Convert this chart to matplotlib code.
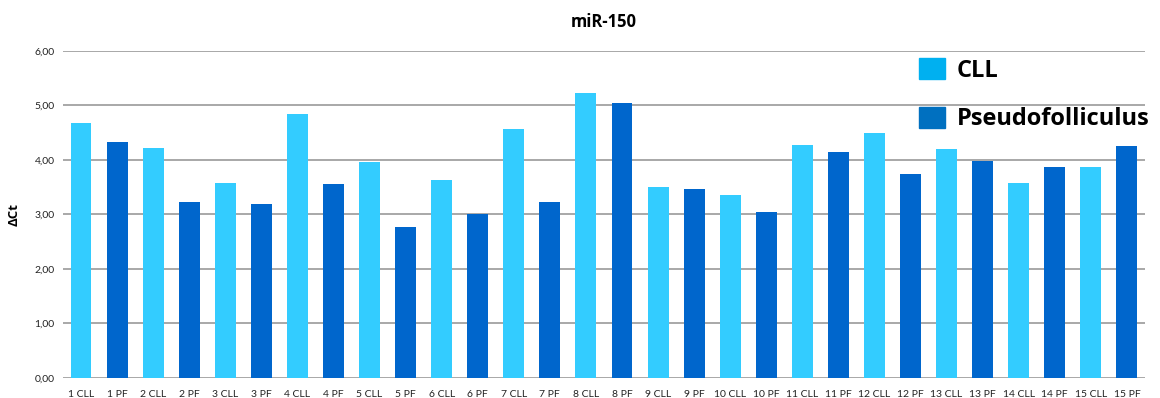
import numpy as np
import matplotlib.pyplot as plt
from matplotlib.patches import Patch
from matplotlib.ticker import FuncFormatter

plt.rcParams['font.family'] = ['Lato', 'DejaVu Sans']
bold_font = ['Open Sans', 'DejaVu Sans']

# delta Ct per sample, CLL and pseudofolliculus (PF) pairs
samples = [str(i) for i in range(1, 16)]
cll_vals = [4.68, 4.22, 3.58, 4.84, 3.96, 3.63, 4.57, 5.23, 3.50, 3.36,
            4.28, 4.50, 4.20, 3.58, 3.87]
pf_vals = [4.33, 3.23, 3.19, 3.56, 2.77, 3.01, 3.23, 5.05, 3.47, 3.05,
           4.15, 3.74, 3.98, 3.87, 4.26]

labels = []
values = []
colors = []
for s, c, p in zip(samples, cll_vals, pf_vals):
    labels += [s + ' CLL', s + ' PF']
    values += [c, p]
    colors += ['#33CCFF', '#0066CC']

fig = plt.figure(figsize=(11.6, 3.98), dpi=100)
ax = fig.add_axes([0.0543, 0.0503, 0.9327, 0.8216])

x = np.arange(len(values))
ax.bar(x, values, width=0.58, color=colors, zorder=3)

ax.set_xlim(-0.5, len(values) - 0.5)
ax.set_ylim(0, 6)
ax.set_yticks(np.arange(0, 7, 1))
ax.yaxis.set_major_formatter(FuncFormatter(lambda v, p: f'{v:.2f}'.replace('.', ',')))
ax.grid(axis='y', color='#999999', linewidth=1.2, zorder=0)
for sp in ax.spines.values():
    sp.set_visible(False)
ax.tick_params(axis='both', length=0, labelsize=7.5, colors='#222222')
ax.tick_params(axis='y', pad=6)
ax.tick_params(axis='x', pad=9)
ax.set_xticks(x)
ax.set_xticklabels(labels)

ax.set_ylabel('ΔCt', fontsize=9.5, fontweight='bold', family=bold_font, labelpad=10)
ax.set_title('miR-150', fontsize=12, fontweight='bold', family=bold_font, pad=17)

handles = [Patch(color='#00B0F0', label='CLL'),
           Patch(color='#0070C0', label='Pseudofolliculus')]
leg = fig.legend(handles=handles, loc='upper left', bbox_to_anchor=(0.774, 0.907),
                 frameon=False, prop={'size': 17, 'weight': 'bold', 'family': bold_font},
                 handlelength=1.1, handleheight=1.0, labelspacing=1.0,
                 handletextpad=0.5)

fig.savefig('out.png', dpi=100)
